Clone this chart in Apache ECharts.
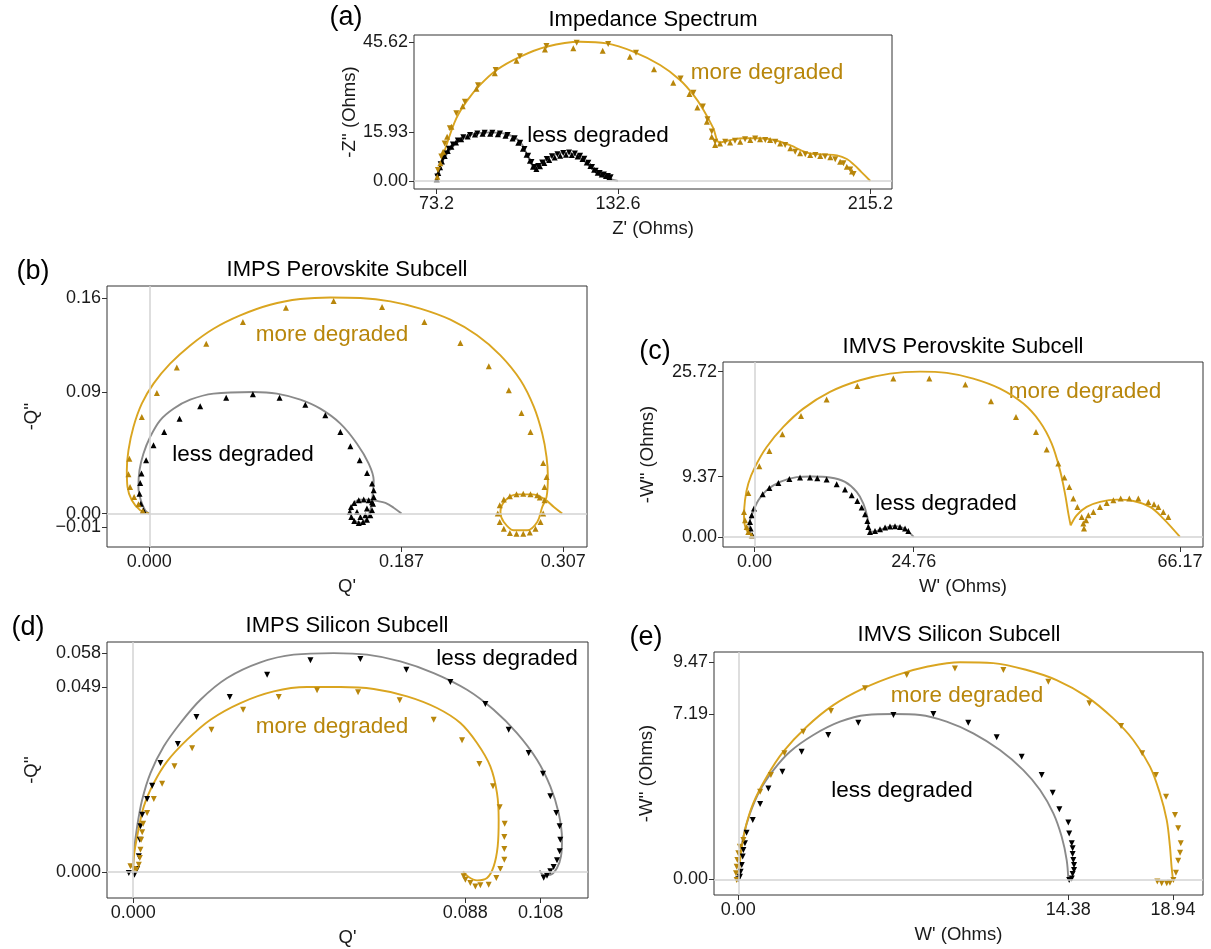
<!DOCTYPE html>
<html><head><meta charset="utf-8">
<script src="https://cdn.jsdelivr.net/npm/echarts@6/dist/echarts.min.js"></script>
<style>html,body{margin:0;padding:0;background:#fff}#chart{width:1211px;height:949px}</style>
</head><body><div id="chart"></div><script>
// ---------- Panel (a) Impedance Spectrum ----------
const aXTicks = [73.2, 132.6, 215.2];
const aXLabels = ['73.2', '132.6', '215.2'];
const aYTicks = [0, 15.93, 45.62];
const aYLabels = ['0.00', '15.93', '45.62'];
const aLessFit = [[73.2,0],[73.7,2.5],[74.4,5.0],[75.4,6.9],[77.6,10.2],[80.8,13.4],[85.2,15.4],[90.7,15.93],[96.1,15.4],[100.5,12.9],[103.2,8.0],[105.4,4.2],[108.1,6.3],[111.4,8.5],[114.7,9.3],[118.0,8.8],[121.2,6.9],[124.5,3.6],[127.8,1.4],[132.6,0]];
const aMoreFit = [[73.2,0],[74.8,6.3],[76.5,11.8],[79.7,20.5],[83.0,26.0],[87.4,31.4],[92.9,36.4],[100.5,40.7],[109.2,44.0],[120.2,45.62],[128.9,45.1],[137.6,42.4],[146.4,38.0],[152.9,33.1],[157.3,28.2],[160.6,23.3],[163.8,17.3],[165.8,12.6],[169.3,13.4],[173.7,14.0],[179.0,14.0],[184.6,13.2],[189.5,11.5],[192.2,10.2],[195.5,9.0],[200.0,8.7],[204.3,8.4],[207.5,7.2],[210.0,5.2],[212.2,3.0],[215.2,0]];
const aMoreDown = [[73.7,3.6],[74.8,8.0],[75.9,12.3],[77.6,17.3],[79.7,22.2],[82.5,26.0],[86.8,31.4],[92.6,36.4],[100.5,40.9],[109.2,44.2],[119.1,45.3],[129.4,44.9],[138.5,42.0],[153.1,33.6],[157.3,28.9],[160.4,24.4],[161.9,20.2],[163.3,16.2],[164.4,12.9],[167.7,12.9],[170.9,13.2],[174.2,13.7],[177.5,13.9],[180.8,13.4],[184.1,12.9],[187.3,11.8],[190.6,9.6],[193.9,8.8],[197.2,8.5],[200.4,8.0],[203.7,7.1],[206.4,5.8],[208.6,3.8],[209.7,2.3]];
const aMoreUp = [[73.5,1.4],[74.5,5.8],[75.4,9.6],[76.7,14.5],[78.1,17.8],[81.8,24.5],[86.3,30.2],[92.3,35.3],[99.4,39.4],[108.7,43.1],[118.0,43.5],[127.6,42.7],[136.5,40.7],[144.4,36.6],[150.7,32.2],[156.0,28.5],[158.6,24.1],[161.7,19.4],[163.3,14.5],[164.4,11.8],[166.0,12.3],[169.3,12.6],[172.6,12.9],[175.9,13.4],[179.1,13.7],[182.4,13.4],[185.7,12.3],[189.0,10.7],[192.2,9.1],[195.5,8.5],[198.8,8.2],[202.1,7.8],[205.3,6.3],[207.5,4.7],[209.2,3.1]];
const aLessDown = [[73.5,1.5],[74.0,3.5],[74.6,5.5],[75.3,7.3],[76.2,9.0],[77.3,10.6],[78.6,12.0],[80.2,13.3],[82.0,14.3],[84.2,15.1],[86.6,15.6],[89.0,15.8],[91.5,15.8],[94.0,15.6],[96.5,15.1],[98.8,14.0],[100.6,12.5],[102.0,10.5],[103.2,8.3],[104.3,6.2],[105.3,4.6],[106.5,4.9],[107.8,6.1],[109.3,7.2],[111.0,8.1],[112.8,8.8],[114.7,9.2],[116.6,9.3],[118.5,9.0],[120.2,8.3],[121.6,7.3],[122.9,6.0],[124.1,4.6],[125.3,3.4],[126.6,2.6],[128.0,2.1],[129.3,1.6],[130.2,1.2]];
const aLessUp = [[73.3,0.6],[73.8,2.6],[74.4,4.5],[75.0,6.4],[75.9,8.2],[76.9,9.8],[78.1,11.2],[79.6,12.6],[81.3,13.7],[83.4,14.6],[85.8,15.2],[88.3,15.5],[90.8,15.5],[93.3,15.3],[95.8,14.8],[98.1,13.9],[100.0,12.5],[101.5,10.6],[102.7,8.6],[103.8,6.6],[104.8,4.7],[105.9,3.9],[107.1,4.8],[108.5,5.9],[110.1,6.9],[111.9,7.7],[113.7,8.3],[115.6,8.6],[117.5,8.5],[119.4,8.0],[121.0,7.2],[122.4,6.1],[123.6,4.9],[124.8,3.7],[126.0,2.7],[127.3,2.1],[128.7,1.6],[129.8,1.2]];

// ---------- Panel (b) IMPS Perovskite Subcell ----------
const bXTicks = [0, 0.187, 0.307];
const bXLabels = ['0.000', '0.187', '0.307'];
const bYTicks = [0, 0.09, 0.16];
const bYLabels = ['0.00', '0.09', '0.16'];
const bYTicksExtra = [-0.01];
const bYLabelsExtra = ['\u22120.01'];
const bMoreFit = [[0,0],[-0.0068,0.0025],[-0.013,0.0099],[-0.0162,0.0198],[-0.0167,0.0322],[-0.0155,0.047],[-0.0118,0.0643],[-0.0056,0.0816],[0.0031,0.0965],[0.0154,0.1113],[0.0303,0.1249],[0.0476,0.1373],[0.0674,0.1472],[0.0897,0.1551],[0.112,0.1593],[0.1342,0.1605],[0.1565,0.1601],[0.1788,0.1576],[0.201,0.1522],[0.2233,0.144],[0.2431,0.1324],[0.2604,0.1175],[0.2753,0.099],[0.2852,0.0792],[0.2914,0.0594],[0.2946,0.042],[0.2956,0.0272],[0.2946,0.0124],[0.2914,0.0049],[0.2877,-0.0062],[0.2802,-0.0124],[0.2703,-0.0124],[0.2629,-0.0062],[0.2604,0.0012],[0.2641,0.0099],[0.2728,0.0143],[0.284,0.0143],[0.2926,0.0111],[0.30,0.0049],[0.3062,0]];
const bMoreUp = [[-0.0049,0.002],[-0.0081,0.0069],[-0.0113,0.0124],[-0.0143,0.0198],[-0.0155,0.0292],[-0.0148,0.0408],[-0.0056,0.0717],[0.0056,0.0896],[0.0204,0.1084],[0.0422,0.1262],[0.0694,0.1423],[0.1013,0.1529],[0.1367,0.1579],[0.1726,0.1534],[0.204,0.1423],[0.2307,0.1267],[0.2518,0.1094],[0.2666,0.0915],[0.276,0.0747],[0.2827,0.0606],[0.2921,0.0376],[0.2946,0.0272],[0.2931,0.0198],[0.2931,0.0099],[0.2921,0],[0.2901,-0.0062],[0.2864,-0.0112],[0.2822,-0.0141],[0.2773,-0.0149],[0.2723,-0.0149],[0.2674,-0.0144],[0.2629,-0.0112],[0.2599,-0.0062],[0.2584,0],[0.2599,0.0062],[0.2629,0.0104],[0.2674,0.0128],[0.2723,0.0143],[0.2773,0.0148],[0.2827,0.0143],[0.2877,0.0136],[0.2896,0.0119]];
const bLessFit = [[0,0],[-0.0031,0.0025],[-0.0063,0.0099],[-0.0081,0.0198],[-0.0073,0.0322],[-0.0044,0.0445],[0.0006,0.0569],[0.008,0.0693],[0.0179,0.0779],[0.0303,0.0846],[0.0476,0.0891],[0.0773,0.0903],[0.0946,0.0891],[0.112,0.0846],[0.1268,0.0779],[0.1417,0.0668],[0.154,0.0519],[0.1627,0.0371],[0.1664,0.0247],[0.1657,0.0149],[0.1644,0.0049],[0.1614,-0.0037],[0.1565,-0.007],[0.1515,-0.0045],[0.1491,0.0012],[0.1515,0.0074],[0.1565,0.0104],[0.1627,0.0104],[0.1689,0.0094],[0.1751,0.0079],[0.1812,0.0044],[0.187,0]];
const bLessUp = [[-0.0044,0.0025],[-0.0063,0.0074],[-0.0073,0.0148],[-0.0068,0.0227],[-0.0058,0.0297],[-0.0024,0.0396],[0.0031,0.0507],[0.011,0.0606],[0.0224,0.0705],[0.0377,0.0797],[0.057,0.0861],[0.0768,0.0886],[0.0966,0.0861],[0.1157,0.0809],[0.1305,0.073],[0.1417,0.0606],[0.1491,0.05],[0.156,0.0396],[0.1615,0.0302],[0.1652,0.0223],[0.1664,0.0173],[0.1664,0.0124],[0.1659,0.0074],[0.1652,0.0025],[0.1639,-0.0013],[0.1614,-0.0045],[0.1585,-0.0062],[0.1553,-0.007],[0.152,-0.0055],[0.1498,-0.0025],[0.1486,0.0012],[0.1496,0.0049],[0.152,0.0079],[0.1553,0.0099],[0.159,0.0104],[0.1627,0.0099],[0.1652,0.0084],[0.154,0.0012],[0.1565,-0.0025],[0.1602,-0.0013],[0.1614,0.0037]];

// ---------- Panel (c) IMVS Perovskite Subcell ----------
const cXTicks = [0, 24.76, 66.17];
const cXLabels = ['0.00', '24.76', '66.17'];
const cYTicks = [0, 9.37, 25.72];
const cYLabels = ['0.00', '9.37', '25.72'];
const cMoreFitA = [[0,0],[-1.22,1.04],[-1.63,3.12],[-1.48,5.71],[-0.96,8.3],[0.08,10.89],[1.89,14.0],[4.48,17.11],[7.59,19.96],[11.74,22.56],[16.41,24.37],[21.07,25.41],[25.74,25.72],[29.89,25.51],[34.03,24.63],[38.18,23.07],[41.81,20.74],[44.4,17.89],[46.22,14.52],[47.51,10.37],[48.29,6.74],[48.81,3.63],[49.17,1.8]];
const cMoreFitB = [[49.17,1.8],[50.1,3.37],[51.66,4.67],[53.73,5.45],[56.33,5.81],[58.92,5.6],[61.51,4.67],[63.58,2.86],[66.17,0]];
const cMoreUp = [[-0.44,0.26],[-0.96,0.78],[-1.22,1.56],[-1.48,2.6],[-1.63,3.89],[-0.96,6.85],[0.75,11.0],[2.31,13.38],[4.33,15.97],[7.23,18.82],[11.22,21.36],[15.99,23.49],[21.59,24.63],[27.19,24.63],[32.79,23.7],[36.78,21.1],[40.67,18.67],[43.78,16.33],[45.44,13.59],[47.25,11.41],[48.19,9.23],[48.96,7.78],[49.58,5.97],[50.21,4.67],[50.88,3.12],[51.14,2.08],[51.24,1.3],[51.56,2.6],[51.92,3.37],[52.7,3.89],[53.73,4.67],[54.77,5.29],[55.81,5.71],[56.95,5.97],[58.29,5.97],[59.69,5.97],[61.25,5.45],[62.13,5.09],[62.8,4.67],[63.58,3.89],[64.36,3.12]];
const cLessFit = [[0,0],[-0.7,0.78],[-0.8,2.08],[-0.44,3.37],[0.6,5.71],[1.89,7.26],[3.97,8.56],[6.56,9.3],[8.89,9.4],[11.74,9.25],[14.07,8.56],[15.89,7.0],[16.93,5.19],[17.55,3.12],[17.86,1.04],[18.48,0.83],[20.04,1.3],[21.59,1.72],[23.15,1.4],[24.76,0]];
const cLessUp = [[-0.33,0.26],[-0.6,1.3],[-0.7,2.34],[-0.44,3.37],[-0.08,4.41],[1.27,6.64],[2.31,7.63],[3.71,8.4],[5.42,9.02],[7.08,9.23],[8.63,9.23],[9.77,9.13],[11.22,8.92],[12.78,8.2],[14.07,7.37],[15.11,6.49],[15.99,5.6],[16.67,4.57],[17.19,3.53],[17.55,2.49],[17.7,1.56],[17.96,0.78],[18.74,0.94],[19.52,1.2],[20.3,1.46],[21.07,1.61],[21.85,1.66],[22.63,1.56],[23.41,1.3],[23.92,0.94]];

// ---------- Panel (d) IMPS Silicon Subcell ----------
const dXTicks = [0, 0.088, 0.108];
const dXLabels = ['0.000', '0.088', '0.108'];
const dYTicks = [0, 0.049, 0.058];
const dYLabels = ['0.000', '0.049', '0.058'];
const dLessFit = [[0,0],[0.00017,0.00503],[0.00105,0.01209],[0.00238,0.01916],[0.00458,0.02622],[0.00812,0.03329],[0.01253,0.03947],[0.01783,0.04565],[0.0249,0.0514],[0.03373,0.05555],[0.04256,0.05758],[0.05316,0.058],[0.062,0.05758],[0.07083,0.05581],[0.07966,0.05272],[0.08849,0.0483],[0.09556,0.043],[0.10174,0.03682],[0.10704,0.02976],[0.11057,0.02269],[0.11278,0.01563],[0.11367,0.00856],[0.1134,0.00414],[0.11234,0.00105],[0.11057,-0.00072],[0.10881,-0.0008],[0.10775,0.00043]];
const dMoreFit = [[0,0],[0.00017,0.00414],[0.00123,0.01033],[0.00282,0.01739],[0.00547,0.02357],[0.009,0.02931],[0.0143,0.03506],[0.02048,0.04036],[0.02843,0.04477],[0.03726,0.04786],[0.0461,0.0490],[0.05493,0.0490],[0.06376,0.04848],[0.07259,0.04654],[0.08054,0.04345],[0.08673,0.03947],[0.09114,0.03417],[0.09467,0.02799],[0.09644,0.02092],[0.09688,0.01386],[0.09662,0.00679],[0.09556,0.00149],[0.09379,-0.0016],[0.09114,-0.00222],[0.08893,-0.00133],[0.08743,0.00018]];
const dLessDown = [[-0.00116,-0.00027],[0.00034,-0.00072],[0.00105,0.00079],[0.00149,0.00414],[0.00176,0.00856],[0.00193,0.01209],[0.00238,0.01518],[0.0037,0.01933],[0.00503,0.02287],[0.00723,0.02887],[0.01183,0.03391],[0.01677,0.04106],[0.0256,0.04636],[0.0355,0.05228],[0.04698,0.05608],[0.06023,0.05643],[0.07242,0.0536],[0.08408,0.05034],[0.09335,0.04451],[0.09953,0.03771],[0.10483,0.03152],[0.10863,0.02605],[0.11057,0.02004],[0.11216,0.01563],[0.11304,0.01209],[0.11322,0.00856],[0.11304,0.00547],[0.11234,0.00308],[0.11145,0.00132],[0.11057,0.00018],[0.10969,-0.00098],[0.10881,-0.00151]];
const dMoreDown = [[-0.00072,0.00149],[0.00017,0.00079],[0.00087,0.00061],[0.00149,0.00193],[0.00176,0.0037],[0.00193,0.00591],[0.00211,0.00856],[0.00238,0.0105],[0.00264,0.0128],[0.0037,0.01563],[0.00547,0.01933],[0.00768,0.0234],[0.01094,0.02799],[0.01563,0.03276],[0.02075,0.03771],[0.02914,0.043],[0.03859,0.04636],[0.04875,0.04813],[0.05961,0.0476],[0.07065,0.04548],[0.07966,0.04036],[0.08717,0.03488],[0.09176,0.02861],[0.09538,0.02269],[0.09715,0.01713],[0.09847,0.0128],[0.09838,0.00927],[0.09838,0.00609],[0.09838,0.00326],[0.09732,0.00079],[0.09626,-0.0016],[0.09423,-0.00337],[0.09203,-0.00354],[0.0907,-0.00381],[0.08937,-0.00292],[0.08805,-0.00204],[0.0876,-0.00115]];

// ---------- Panel (e) IMVS Silicon Subcell ----------
const eXTicks = [0, 14.38, 18.94];
const eXLabels = ['0.00', '14.38', '18.94'];
const eYTicks = [0, 7.19, 9.47];
const eYLabels = ['0.00', '7.19', '9.47'];
const eMoreFit = [[0,0],[0.1,0.99],[0.29,2.15],[0.65,3.31],[1.24,4.47],[1.96,5.56],[2.98,6.65],[4.14,7.59],[5.45,8.32],[6.9,8.9],[8.21,9.26],[9.66,9.46],[11.11,9.42],[12.57,9.12],[13.87,8.68],[15.18,7.96],[16.34,7.01],[17.21,6.07],[17.94,4.91],[18.37,3.75],[18.67,2.58],[18.81,1.42],[18.88,0.55],[18.94,0]];
const eLessFit = [[0,0],[0.07,0.84],[0.22,1.86],[0.51,2.87],[0.95,3.89],[1.53,4.76],[2.25,5.56],[3.27,6.29],[4.43,6.87],[5.59,7.16],[6.76,7.2],[7.92,7.16],[9.08,6.87],[10.24,6.36],[11.4,5.63],[12.42,4.76],[13.15,3.89],[13.73,2.87],[14.09,1.86],[14.31,0.84],[14.38,0]];
const eMoreDown = [[-0.07,-0.03],[-0.1,0.26],[-0.07,0.55],[-0.04,0.84],[0,1.13],[0.07,1.42],[0.22,1.71],[0.95,3.82],[1.42,4.54],[2.01,5.49],[2.83,6.43],[4.04,7.33],[5.52,8.32],[7.34,8.9],[9.44,9.19],[11.55,9.12],[13.51,8.61],[15.3,7.67],[16.68,6.68],[17.6,5.49],[18.2,4.54],[18.64,3.6],[19.03,2.8],[19.17,2.22],[19.28,1.57],[19.25,1.16],[19.17,0.81],[19.07,0.29],[18.96,-0.03],[18.81,-0.15],[18.67,-0.17],[18.45,-0.17],[18.26,-0.1]];
const eLessDown = [[0,0],[0.07,0.11],[0.1,0.33],[0.15,0.62],[0.19,0.99],[0.22,1.28],[0.29,1.57],[0.36,2.03],[0.63,2.58],[0.95,3.28],[1.31,3.96],[1.92,4.69],[2.76,5.56],[3.92,6.29],[5.23,6.82],[6.76,7.16],[8.5,7.2],[10.02,6.82],[11.26,6.19],[12.35,5.34],[13.22,4.54],[13.7,3.77],[13.99,3.05],[14.38,2.47],[14.42,2.0],[14.53,1.57],[14.57,1.35],[14.57,1.1],[14.6,0.84],[14.63,0.62],[14.63,0.41],[14.57,0.23],[14.53,0.04],[14.42,-0.03]];

// ---------- styling ----------
const FONT = '"Liberation Sans", Arial, sans-serif';
const GOLD_LINE = '#DAA520', GOLD_MARK = '#B8860B', GRAY_LINE = '#8a8a8a', BLACK = '#000000';
const TICK_FS = 18, NAME_FS = 18.5, TITLE_FS = 22, NOTE_FS = 22.5, LETTER_FS = 27;

const panels = [
  {grid:{left:414,top:35,width:478,height:154}, xr:[65.86,222.28], yr:[-2.62,47.84], xt:aXTicks, xl:aXLabels, yt:aYTicks, yl:aYLabels, xname:"Z' (Ohms)", yname:"-Z'' (Ohms)", yGap:55, zeroX:false,
   fits:[[aLessFit,GRAY_LINE],[aMoreFit,GOLD_LINE]], marks:[[aLessUp,BLACK,false],[aLessDown,BLACK,true],[aMoreUp,GOLD_MARK,false],[aMoreDown,GOLD_MARK,true]]},
  {grid:{left:107,top:286,width:480,height:261}, xr:[-0.0314,0.3246], yr:[-0.0248,0.169], xt:bXTicks, xl:bXLabels, yt:bYTicks, yl:bYLabels, xname:"Q'", yname:"-Q''", yGap:66, zeroX:true,
   extraY:[bYTicksExtra,bYLabelsExtra],
   fits:[[bLessFit,GRAY_LINE],[bMoreFit,GOLD_LINE]], marks:[[bLessUp,BLACK,false],[bMoreUp,GOLD_MARK,false]]},
  {grid:{left:723,top:362,width:480,height:185}, xr:[-4.9,69.75], yr:[-1.56,27.21], xt:cXTicks, xl:cXLabels, yt:cYTicks, yl:cYLabels, xname:"W' (Ohms)", yname:"-W'' (Ohms)", yGap:66, zeroX:true,
   fits:[[cLessFit,GRAY_LINE],[cMoreFitA,GOLD_LINE],[cMoreFitB,GOLD_LINE]], marks:[[cLessUp,BLACK,false],[cMoreUp,GOLD_MARK,false]]},
  {grid:{left:107,top:642,width:481,height:256}, xr:[-0.00694,0.12056], yr:[-0.00689,0.06094], xt:dXTicks, xl:dXLabels, yt:dYTicks, yl:dYLabels, xname:"Q'", yname:"-Q''", yGap:66, zeroX:true,
   fits:[[dLessFit,GRAY_LINE],[dMoreFit,GOLD_LINE]], marks:[[dLessDown,BLACK,true],[dMoreDown,GOLD_MARK,true]]},
  {grid:{left:714,top:652,width:489,height:243}, xr:[-1.059,20.25], yr:[-0.684,9.904], xt:eXTicks, xl:eXLabels, yt:eYTicks, yl:eYLabels, xname:"W' (Ohms)", yname:"-W'' (Ohms)", yGap:58, zeroX:true,
   fits:[[eLessFit,GRAY_LINE],[eMoreFit,GOLD_LINE]], marks:[[eLessDown,BLACK,true],[eMoreDown,GOLD_MARK,true]]}
];

function fmt(ticks, labels){
  return function(v){ let best=0, bd=Infinity; ticks.forEach((t,i)=>{const d=Math.abs(t-v); if(d<bd){bd=d;best=i;}}); return labels[best]; };
}

const grids=[], xAxes=[], yAxes=[], series=[], extraYAxes=[];
const lab = (t,l)=>({customValues:t, formatter:fmt(t,l), fontFamily:FONT, fontSize:TICK_FS, color:'#1a1a1a', margin:6,
  hideOverlap:false, showMinLabel:true, showMaxLabel:true});
const tick = (t)=>({show:true, customValues:t, length:5, lineStyle:{color:'#333'}});
panels.forEach((p,i)=>{
  grids.push(Object.assign({show:true, borderColor:'#333', borderWidth:1, backgroundColor:'transparent', containLabel:false}, p.grid));
  const common = {type:'value', gridIndex:i, splitLine:{show:false}, axisLine:{show:false, onZero:false},
    nameLocation:'middle', nameTextStyle:{fontFamily:FONT, fontSize:NAME_FS, color:'#1a1a1a'}};
  xAxes.push(Object.assign({}, common, {min:p.xr[0], max:p.xr[1], name:p.xname, nameGap:30,
    axisTick:tick(p.xt), axisLabel:lab(p.xt,p.xl)}));
  yAxes.push(Object.assign({}, common, {min:p.yr[0], max:p.yr[1], name:p.yname, nameGap:p.yGap,
    axisTick:tick(p.yt), axisLabel:lab(p.yt,p.yl)}));
  if (p.extraY) {
    extraYAxes.push({type:'value', gridIndex:i, position:'left', offset:0, min:p.yr[0], max:p.yr[1],
      splitLine:{show:false}, axisLine:{show:false, onZero:false},
      axisTick:tick(p.extraY[0]), axisLabel:lab(p.extraY[0],p.extraY[1])});
  }
  const ml = [{yAxis:0}]; if(p.zeroX) ml.push({xAxis:0});
  series.push({type:'line', xAxisIndex:i, yAxisIndex:i, data:[], z:1, silent:true,
    markLine:{silent:true, symbol:['none','none'], label:{show:false}, animation:false,
      lineStyle:{color:'#d3d3d3', width:1.5, type:'solid'}, data:ml}});
  p.fits.forEach(f=>{
    series.push({type:'line', xAxisIndex:i, yAxisIndex:i, data:f[0], smooth:0.35, symbol:'none', showSymbol:false,
      lineStyle:{color:f[1], width:1.9}, z:3, silent:true});
  });
  p.marks.forEach(m=>{
    series.push({type:'scatter', xAxisIndex:i, yAxisIndex:i, data:m[0], symbol:'triangle', symbolSize:6,
      symbolRotate:m[2]?180:0, itemStyle:{color:m[1], opacity:1}, z:4, silent:true});
  });
});

function txt(x,y,text,size,color){
  return {type:'text', x:x, y:y, silent:true, style:{text:text, fontFamily:FONT, fontSize:size, fill:color, align:'center', verticalAlign:'middle'}};
}
const graphics = [
  txt(346,18,'(a)',LETTER_FS,'#000'), txt(653,20,'Impedance Spectrum',TITLE_FS,'#000'),
  txt(33,272,'(b)',LETTER_FS,'#000'), txt(347,270,'IMPS Perovskite Subcell',TITLE_FS,'#000'),
  txt(655,352,'(c)',LETTER_FS,'#000'), txt(963,347,'IMVS Perovskite Subcell',TITLE_FS,'#000'),
  txt(28,628,'(d)',LETTER_FS,'#000'), txt(347,626,'IMPS Silicon Subcell',TITLE_FS,'#000'),
  txt(646,638,'(e)',LETTER_FS,'#000'), txt(959,635,'IMVS Silicon Subcell',TITLE_FS,'#000'),
  txt(767,73,'more degraded',NOTE_FS,GOLD_MARK), txt(598,136,'less degraded',NOTE_FS,'#000'),
  txt(332,335,'more degraded',NOTE_FS,GOLD_MARK), txt(243,455,'less degraded',NOTE_FS,'#000'),
  txt(1085,392,'more degraded',NOTE_FS,GOLD_MARK), txt(946,504,'less degraded',NOTE_FS,'#000'),
  txt(507,659,'less degraded',NOTE_FS,'#000'), txt(332,727,'more degraded',NOTE_FS,GOLD_MARK),
  txt(967,696,'more degraded',NOTE_FS,GOLD_MARK), txt(902,791,'less degraded',NOTE_FS,'#000')
];

const chart = echarts.init(document.getElementById('chart'), null, {renderer:'canvas'});
chart.setOption({animation:false, backgroundColor:'#fff', grid:grids, xAxis:xAxes, yAxis:yAxes.concat(extraYAxes), series:series, graphic:graphics});
</script></body></html>
